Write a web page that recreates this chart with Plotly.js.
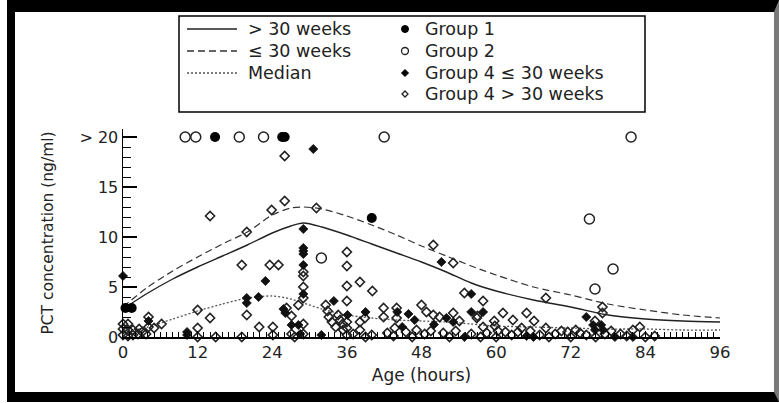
<!DOCTYPE html>
<html>
<head>
<meta charset="utf-8">
<script src="https://cdn.plot.ly/plotly-3.0.1.min.js"></script>
<style>
  html, body { margin:0; padding:0; background:#fff; }
  #wrap { position:relative; width:779px; height:403px; overflow:hidden; }
  #chart { position:absolute; left:0; top:0; width:779px; height:403px; }
  #frame { position:absolute; left:7px; top:0; width:772px; height:402px; box-sizing:border-box;
           border-top:12px solid #000; border-left:8px solid #000; border-bottom:10px solid #000;
           border-right:5px solid #7a7a7a; pointer-events:none; }
</style>
</head>
<body>
<div id="wrap"><div id="chart"></div><div id="frame"></div></div>
<script>
// ---------- data ----------
const curveAge     = [0, 4, 8, 12, 16, 20, 24, 27, 29, 32, 36, 40, 44, 48, 52, 56, 60, 66, 72, 78, 84, 90, 96];
const curveAbove30 = [2.8, 4.4, 5.8, 7.0, 8.1, 9.2, 10.4, 11.1, 11.4, 11.0, 10.2, 9.3, 8.4, 7.5, 6.5, 5.4, 4.6, 3.7, 3.0, 2.2, 1.8, 1.6, 1.5];
const curveLe30    = [3.0, 5.0, 6.6, 8.0, 9.3, 10.5, 12.2, 12.9, 13.0, 12.8, 12.1, 11.2, 10.2, 9.1, 8.1, 7.1, 6.2, 5.0, 4.2, 3.3, 2.7, 2.2, 1.9];
const curveMedian  = [0.5, 1.0, 1.8, 2.6, 3.3, 3.9, 4.1, 3.8, 3.4, 2.8, 2.2, 1.9, 1.7, 1.6, 1.5, 1.3, 1.1, 1.0, 0.9, 0.8, 0.8, 0.7, 0.7];

const group1Age = [0.4, 1.4, 14.8, 25.6, 26.0, 40.0];
const group1Pct = [2.9, 2.9, 20, 20, 20, 11.9];

const group2Age = [10.0, 11.7, 18.7, 22.6, 42.0, 81.7, 31.9, 75.0, 78.8, 75.9];
const group2Pct = [20, 20, 20, 20, 20, 20, 7.9, 11.8, 6.8, 4.8];

const g4LeAge = [0, 4.1, 10.3, 10.3, 19.9, 19.9, 21.8, 22.9, 25.8, 26.1, 27.1, 28.2, 28.5,
  29, 29, 29, 29, 29, 29, 30.6, 31.9, 33.9, 36.1, 39.0, 44.1, 44.9, 45.9, 46.9, 50.0, 51.2,
  52.0, 53.1, 54.9, 56.0, 56.0, 57.9, 64.9, 66.0, 74.5, 75.6, 76.9, 75.9, 77.2, 79.1, 82.0, 96.2, 96.2];
const g4LePct = [6.1, 1.6, 0.5, 0.2, 3.9, 3.4, 4.0, 5.6, 2.8, 2.4, 1.2, 1.2, 0.3,
  10.8, 8.9, 8.6, 8.3, 7.2, 4.3, 18.8, 0.2, 3.6, 2.2, 2.5, 2.5, 1.0, 2.3, 1.7, 1.25, 7.5,
  1.9, 1.5, 0.0, 4.3, 2.5, 2.5, 0.1, 0.0, 2.0, 1.2, 1.2, 0.7, 0.7, 0.0, 0.0, 0.4, 0.0];

const g4GtAge = [0, 0.8, 0, 0.8, 1.6, 0, 0.8, 1.6, 2.4, 3.1, 3.7, 2.6,
  4.1, 4.1, 5.0, 6.2, 12.0, 12.0, 12.0, 14.0, 14.9, 19.1, 14.0,
  19.1, 19.9, 19.9, 21.9, 24.1, 24.1, 23.6, 25.0, 23.9, 26.0, 26.0, 31.1,
  26.3, 27.1, 27.1, 27.6, 28.2, 29, 29, 29, 29, 29, 29,
  32.6, 32.9, 33.1, 33.6, 34.2, 34.6, 34.9, 35.3, 35.4,
  36, 36, 36, 36, 36, 36, 36, 38.1, 40.1, 38.1, 38.1, 38.9, 40.0,
  41.9, 41.9, 44.0, 44.0, 43.7, 47.2, 48.0, 48.8, 49.9, 50.9, 53.1, 54.1, 54.9,
  57.9, 56.9, 57.9, 59.7, 59.8, 60.3, 61.1, 62.7, 64.9, 66.1, 68.0, 68.0, 64.1,
  71.5, 72.8, 77.1, 77.1, 75.9, 82.0, 83.1, 84.0, 96.2, 49.9, 53.1, 57.0,
  37.0, 39.0, 42.5, 43.5, 45.5, 46.5, 48.5, 49.5, 51.5, 52.5, 53.5, 56.0, 57.5, 58.5,
  60.0, 61.5, 62.5, 63.5, 65.5, 67.0, 68.5, 69.5, 70.5, 72.0, 73.5, 74.5, 76.0, 77.5,
  78.5, 80.0, 81.0, 85.5];
const g4GtPct = [1.3, 1.3, 0.8, 0.7, 0.7, 0.2, 0.1, 0.2, 0.3, 0.5, 0.3, 0.8,
  2.0, 1.0, 0.9, 1.3, 2.7, 0.9, 0.0, 1.9, 0.0, 0.0, 12.1,
  7.2, 10.5, 2.2, 1.0, 1.0, 0.2, 7.2, 7.2, 12.7, 13.6, 18.1, 12.9,
  2.9, 2.1, 0.3, 0.0, 3.2, 6.5, 6.1, 5.0, 3.9, 1.3, 0.3,
  3.2, 2.6, 2.0, 1.5, 1.0, 2.2, 1.7, 1.3, 0.7,
  8.5, 7.1, 5.1, 3.6, 1.5, 0.9, 0.2, 5.5, 4.6, 1.5, 0.7, 1.9, 0.2,
  2.9, 2.0, 2.9, 1.9, 0.9, 0.7, 3.2, 2.5, 2.2, 2.0, 2.4, 1.6, 4.4,
  3.6, 1.9, 1.0, 1.6, 1.1, 0.6, 2.4, 1.7, 2.4, 1.6, 3.9, 0.9, 0.9,
  0.5, 0.7, 3.0, 2.4, 1.6, 0.7, 1.0, 0.0, 0.2, 9.2, 7.4, 2.1,
  0.3, 0.0, 0.4, 0.1, 0.5, 0.0, 0.3, 0.6, 0.4, 0.0, 0.6, 0.3, 0.0, 0.4,
  0.0, 0.5, 0.2, 0.5, 0.6, 0.2, 0.0, 0.3, 0.6, 0.0, 0.4, 0.2, 0.0, 0.3,
  0.6, 0.3, 0.1, 0.1];

const xTickVals = [0, 12, 24, 36, 48, 60, 72, 84, 96];
const yTickVals = [0, 5, 10, 15, 20];
const yTickText = ['0', '5', '10', '15', '> 20'];
const lineLabels = ['> 30 weeks', '\u2264 30 weeks', 'Median'];
const markerLabels = ['Group 1', 'Group 2', 'Group 4 \u2264 30 weeks', 'Group 4 > 30 weeks'];

// ---------- styles ----------
const lineStyles = [
  {color:'#222', width:1.4, dash:'solid'},
  {color:'#333', width:1.2, dash:'7px,4px'},
  {color:'#555', width:1.3, dash:'2px,2px'}
];
const TXT = '#222';

const traces = [
  {x: curveAge, y: curveAbove30, name: lineLabels[0], mode:'lines', line: Object.assign({shape:'spline', smoothing:0.8}, lineStyles[0])},
  {x: curveAge, y: curveLe30, name: lineLabels[1], mode:'lines', line: Object.assign({shape:'spline', smoothing:0.8}, lineStyles[1])},
  {x: curveAge, y: curveMedian, name: lineLabels[2], mode:'lines', line: Object.assign({shape:'spline', smoothing:0.8}, lineStyles[2])},
  {x: g4GtAge, y: g4GtPct, name: markerLabels[3], mode:'markers',
   marker:{symbol:'diamond-open', size:7, color:'#222', line:{width:1.6, color:'#222'}}},
  {x: g4LeAge, y: g4LePct, name: markerLabels[2], mode:'markers',
   marker:{symbol:'diamond', size:7, color:'#111', line:{width:0.8, color:'#111'}}},
  {x: group2Age, y: group2Pct, name: markerLabels[1], mode:'markers',
   marker:{symbol:'circle-open', size:10, color:'#222', line:{width:1.5, color:'#222'}}},
  {x: group1Age, y: group1Pct, name: markerLabels[0], mode:'markers',
   marker:{symbol:'circle', size:10, color:'#000'}}
];
traces.forEach(t => { t.showlegend = false; t.cliponaxis = false; t.hoverinfo = 'skip'; });

// ---------- geometry helpers (pixel -> paper) ----------
const M = {l:123, r:59, t:129, b:66};
const W = 779, H = 403;
const PW = W - M.l - M.r, PH = H - M.t - M.b;
const px = v => (v - M.l) / PW;
const py = v => (H - M.b - v) / PH;

const shapes = [];
const annotations = [];
// legend box
shapes.push({type:'rect', xref:'paper', yref:'paper', x0:px(179), x1:px(645), y0:py(112), y1:py(16),
  line:{color:'#000', width:1.5}, fillcolor:'rgba(0,0,0,0)'});
const rowY = [29, 51, 73, 94];
lineLabels.forEach((lab, i) => {
  shapes.push({type:'line', xref:'paper', yref:'paper', x0:px(187), x1:px(237), y0:py(rowY[i]), y1:py(rowY[i]),
    line: {color: lineStyles[i].color, width: 1.3, dash: lineStyles[i].dash}});
  annotations.push({xref:'paper', yref:'paper', x:px(246), y:py(rowY[i]), xanchor:'left', yanchor:'middle',
    text: lab, showarrow:false, font:{size:17.5, color:TXT}});
});
const diamond = 'M0,3.5 L3.5,0 L0,-3.5 L-3.5,0 Z';
const legendMarkers = [
  {type:'circle', x0:-3.5, x1:3.5, y0:-3.5, y1:3.5, fillcolor:'#000', line:{color:'#000', width:1}},
  {type:'circle', x0:-3.5, x1:3.5, y0:-3.5, y1:3.5, fillcolor:'rgba(0,0,0,0)', line:{color:'#222', width:1.3}},
  {type:'path', path:diamond, fillcolor:'#000', line:{color:'#000', width:1}},
  {type:'path', path:'M0,3 L3,0 L0,-3 L-3,0 Z', fillcolor:'rgba(0,0,0,0)', line:{color:'#222', width:1.3}}
];
markerLabels.forEach((lab, i) => {
  shapes.push(Object.assign({xref:'paper', yref:'paper', xsizemode:'pixel', ysizemode:'pixel',
    xanchor:px(405), yanchor:py(rowY[i])}, legendMarkers[i]));
  annotations.push({xref:'paper', yref:'paper', x:px(423), y:py(rowY[i]), xanchor:'left', yanchor:'middle',
    text: lab, showarrow:false, font:{size:17.5, color:TXT}});
});

const layout = {
  width: W, height: H,
  margin: {l:M.l, r:M.r, t:M.t, b:M.b, pad:0},
  paper_bgcolor:'#fff', plot_bgcolor:'#fff',
  font: {family:'"DejaVu Sans", sans-serif', color:TXT, size:16},
  showlegend: false,
  xaxis: {
    range:[0, 96], tickvals: xTickVals, ticks:'inside', ticklen:6, tickwidth:1.2, tickcolor:'#000',
    minor:{dtick:1, tick0:0, ticks:'inside', ticklen:5, tickwidth:1, tickcolor:'#000'},
    showline:true, linecolor:'#000', linewidth:1.5, showgrid:false, zeroline:false,
    tickfont:{size:16.5, color:TXT},
    title:{text:'Age (hours)', font:{size:17, color:TXT}, standoff:8}
  },
  yaxis: {
    range:[0, 20.8], tickvals: yTickVals, ticktext: yTickText, ticks:'inside', ticklen:14, tickwidth:1.3, tickcolor:'#000',
    minor:{dtick:1, tick0:0, ticks:'inside', ticklen:8, tickwidth:1, tickcolor:'#000'},
    showline:true, linecolor:'#000', linewidth:1.5, showgrid:false, zeroline:false,
    tickfont:{size:16, color:TXT},
    title:{text:'PCT concentration (ng/ml)', font:{size:15.5, color:TXT}, standoff:22}
  },
  shapes: shapes,
  annotations: annotations
};

Plotly.newPlot('chart', traces, layout, {staticPlot:true, displayModeBar:false});
</script>
</body>
</html>
